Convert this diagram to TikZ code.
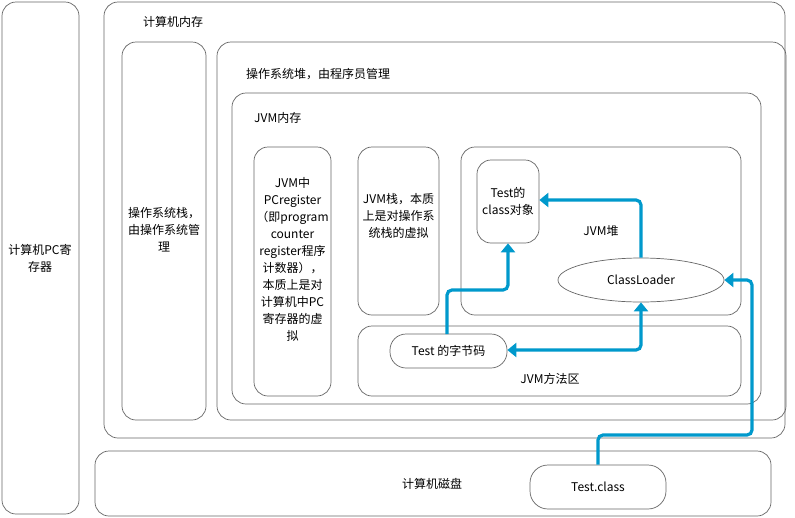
\documentclass[tikz,border=0pt]{standalone}
\usepackage{fontspec}
\setmainfont{Noto Sans CJK SC}
\usetikzlibrary{shapes.geometric,arrows.meta}
\begin{document}
\begin{tikzpicture}[x=1pt,y=-1pt,
 box/.style={draw=black!60,rounded corners=14pt,line width=0.7pt},
 txt/.style={font=\fontsize{12}{17}\selectfont,align=center,inner sep=0},
 lbl/.style={font=\fontsize{12}{14}\selectfont,anchor=west,inner sep=0},
 flow/.style={draw={rgb,255:red,0;green,153;blue,204},line width=3.2pt,rounded corners=5pt,-{Triangle[length=9pt,width=14pt]}}]
\useasboundingbox (0,0) rectangle (795,517);
\fill[white] (0,0) rectangle (795,517);
\draw[box] (2,2) rectangle (79,514);
\node[txt] (pc) at (40,258) {计算机PC寄\\存器};
\draw[box] (104,2) rectangle (785,438);
\node[lbl] (mem) at (143,22) {计算机内存};
\draw[box] (122,42) rectangle (206,420);
\node[txt] (oss) at (164,230) {操作系统栈，\\由操作系统管\\理};
\draw[box] (217,42) rectangle (786,420);
\node[lbl] (osh) at (246,74) {操作系统堆，由程序员管理};
\draw[box] (232,93) rectangle (761,404);
\node[lbl] (jm) at (254,118) {JVM内存};
\draw[box] (254,147) rectangle (331,396);
\node[txt] (jpc) at (292.5,259) {JVM中\\PCregister\\（即program\\counter\\register程序\\计数器），\\本质上是对\\计算机中PC\\寄存器的虚\\拟};
\draw[box] (358,147) rectangle (439,315);
\node[txt] (js) at (398.5,216) {JVM栈，本质\\上是对操作系\\统栈的虚拟};
\draw[box] (461,147) rectangle (741,315);
\node[txt] (jh) at (601,231) {JVM堆};
\node[draw=black!60,rounded corners=14pt,line width=0.7pt,minimum width=62pt,minimum height=83pt,txt] (co) at (508,201.5) {Test的\\class对象};
\node[draw=black!60,ellipse,line width=0.7pt,minimum width=166pt,minimum height=44pt,txt] (cl) at (641,280) {ClassLoader};
\draw[box] (358,326) rectangle (741,396);
\node[txt] (ma) at (550,379) {JVM方法区};
\node[draw=black!60,rounded corners=16pt,line width=0.7pt,minimum width=117pt,minimum height=34pt,txt] (bc) at (448.5,351) {Test 的字节码};
\draw[box] (95,451) rectangle (771,516);
\node[txt] (disk) at (432,484) {计算机磁盘};
\node[draw=black!60,rounded corners=18pt,line width=0.7pt,minimum width=136pt,minimum height=44pt,txt] (tc) at (598,487) {Test.class};
\draw[flow] (tc.north) -- (598,435) -- (752,435) -- (752,280) -- (cl.east);
\draw[flow] (cl.north) -- (641,200) -- (co.east |- 0,200);
\draw[flow,{Triangle[length=9pt,width=14pt]}-{Triangle[length=9pt,width=14pt]}] (cl.south) -- (641,350) -- (bc.east |- 0,350);
\draw[flow] (447,334) -- (447,290) -- (508,290) -- (co.south);
\end{tikzpicture}
\end{document}
